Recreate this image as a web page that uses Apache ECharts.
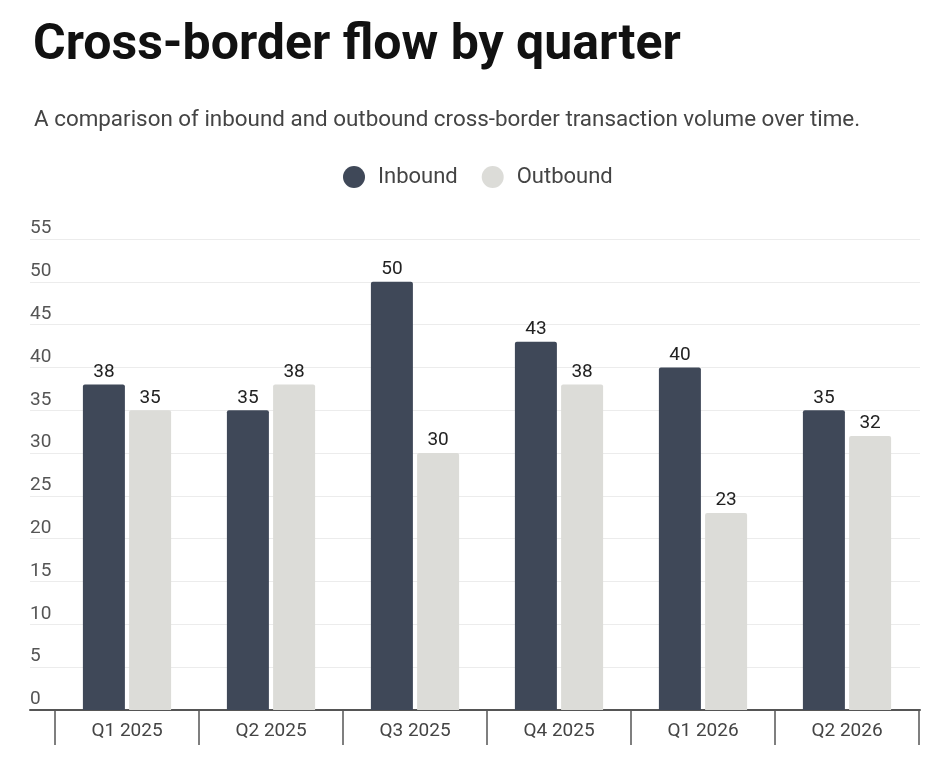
<!DOCTYPE html>
<html>
<head>
<meta charset="utf-8">
<script src="https://cdn.jsdelivr.net/npm/echarts@6/dist/echarts.min.js"></script>
<style>
  html, body { margin: 0; padding: 0; background: #fff; }
  #chart { width: 944px; height: 769px; }
</style>
</head>
<body>
<div id="chart"></div>
<script>
// data
var categories = ['Q1 2025', 'Q2 2025', 'Q3 2025', 'Q4 2025', 'Q1 2026', 'Q2 2026'];
var inbound = [38, 35, 50, 43, 40, 35];
var outbound = [35, 38, 30, 38, 23, 32];

var myChart = echarts.init(document.getElementById('chart'));
var option = {
    backgroundColor: '#fff',
    textStyle: { fontFamily: 'Roboto' },
    title: [
        {
            text: 'Cross-border flow by quarter',
            left: 28, top: 16,
            textStyle: { fontSize: 50, fontWeight: 'bold', color: '#111', fontFamily: 'Roboto' }
        },
        {
            text: 'A comparison of inbound and outbound cross-border transaction volume over time.',
            left: 29, top: 104,
            textStyle: { fontSize: 22.4, fontWeight: 'normal', color: '#444', fontFamily: 'Roboto' }
        }
    ],
    legend: {
        top: 161,
        left: 338,
        icon: 'circle',
        itemWidth: 22, itemHeight: 22,
        itemGap: 24,
        textStyle: { fontSize: 22, color: '#444', padding: [0, 0, 0, 8] },
        data: ['Inbound', 'Outbound']
    },
    grid: [
        { left: 30, right: 24, top: 239, bottom: 59 },
        { left: 55, right: 25, top: 239, bottom: 59 }
    ],
    xAxis: [
        {
            gridIndex: 0, type: 'value', min: 0, max: 1,
            axisLabel: { show: false }, axisTick: { show: false }, splitLine: { show: false },
            axisLine: { show: true, lineStyle: { color: '#555', width: 2 } }
        },
        {
            gridIndex: 1, type: 'category', data: categories,
            axisLine: { show: false },
            axisTick: { show: true, length: 35, interval: 0, lineStyle: { color: '#555', width: 1.5 } },
            axisLabel: { fontSize: 19, color: '#444', margin: 12 }
        }
    ],
    yAxis: [
        {
            gridIndex: 0, type: 'value', min: 0, max: 55, interval: 5,
            axisLine: { show: false }, axisTick: { show: false },
            axisLabel: { inside: true, margin: 0, verticalAlign: 'bottom', padding: [0, 0, 1, 0], fontSize: 19, color: '#555' },
            splitLine: { lineStyle: { color: '#ececec', width: 1 } }
        },
        {
            gridIndex: 1, type: 'value', min: 0, max: 55, interval: 5,
            axisLine: { show: false }, axisTick: { show: false },
            axisLabel: { show: false }, splitLine: { show: false }
        }
    ],
    series: [
        {
            name: 'Inbound', type: 'bar', xAxisIndex: 1, yAxisIndex: 1,
            data: inbound, barWidth: 42, barGap: '10%',
            itemStyle: { color: '#3f4858', borderRadius: [2, 2, 0, 0] },
            label: { show: true, position: 'top', fontSize: 19, color: '#222', distance: 3 }
        },
        {
            name: 'Outbound', type: 'bar', xAxisIndex: 1, yAxisIndex: 1,
            data: outbound, barWidth: 42,
            itemStyle: { color: '#dcdcd8', borderRadius: [2, 2, 0, 0] },
            label: { show: true, position: 'top', fontSize: 19, color: '#222', distance: 3 }
        }
    ]
};
myChart.setOption(option);
</script>
</body>
</html>
